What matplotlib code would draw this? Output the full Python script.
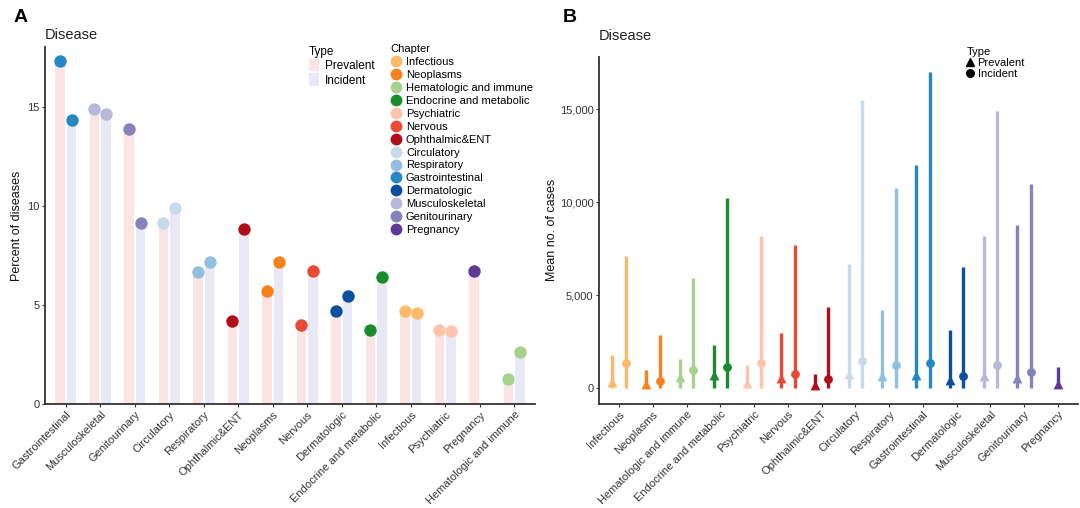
import matplotlib.pyplot as plt
import numpy as np
from matplotlib.patches import Patch
from matplotlib.lines import Line2D
from matplotlib.ticker import FuncFormatter

plt.rcParams['font.family'] = ['Liberation Sans', 'DejaVu Sans']

# chapter order (legend / panel B order) and colours
chapters = ['Infectious', 'Neoplasms', 'Hematologic and immune', 'Endocrine and metabolic',
            'Psychiatric', 'Nervous', 'Ophthalmic&ENT', 'Circulatory', 'Respiratory',
            'Gastrointestinal', 'Dermatologic', 'Musculoskeletal', 'Genitourinary', 'Pregnancy']
chapter_colors = ['#FDBA6B', '#F7821B', '#A6D28D', '#1A8C2C', '#FCC4AD', '#E84A36', '#B10E1C',
                  '#C9D9EC', '#93BFDF', '#2388C4', '#0B4F9E', '#BAB8DA', '#8682BC', '#5D3A96']
color_of = dict(zip(chapters, chapter_colors))

# panel A: percent of diseases
a_order = ['Gastrointestinal', 'Musculoskeletal', 'Genitourinary', 'Circulatory', 'Respiratory',
           'Ophthalmic&ENT', 'Neoplasms', 'Nervous', 'Dermatologic', 'Endocrine and metabolic',
           'Infectious', 'Psychiatric', 'Pregnancy', 'Hematologic and immune']
pct_prevalent = [17.3, 14.85, 13.85, 9.14, 6.68, 4.2, 5.69, 3.97, 4.71, 3.74, 4.71, 3.74, 6.7, 1.26]
pct_incident = [14.3, 14.6, 9.14, 9.9, 7.15, 8.82, 7.15, 6.7, 5.47, 6.4, 4.58, 3.67, None, 2.6]

# panel B: mean no. of cases (line top = max, marker = mean)
prev_max = [1770, 970, 1560, 2310, 1240, 2980, 740, 6700, 4190, 12000, 3120, 8170, 8760, 1150]
prev_mean = [340, 250, 610, 700, 260, 555, 200, 750, 660, 700, 430, 645, 555, 250]
inc_max = [7130, 2850, 5900, 10200, 8170, 7690, 4370, 15500, 10770, 17000, 6520, 14900, 10970, None]
inc_mean = [1370, 376, 968, 1147, 1380, 750, 520, 1450, 1237, 1330, 660, 1237, 877, None]

PREV_BAR = '#FCE4E4'
INC_BAR = '#E8E9F4'
AXC = '#333333'

fig = plt.figure(figsize=(10.8, 5.08), dpi=100)
axA = fig.add_axes([45/1080, 1-404/508, 490/1080, 357/508])
axB = fig.add_axes([599/1080, 1-403.5/508, 479/1080, 346.5/508])

def style(ax):
    for s in ['top', 'right']:
        ax.spines[s].set_visible(False)
    for s in ['left', 'bottom']:
        ax.spines[s].set_color(AXC)
        ax.spines[s].set_linewidth(1.3)
    ax.tick_params(colors=AXC, labelsize=8, length=2.5, width=0.8, pad=1.5)
    ax.set_xlim(-0.6, 13.6)

# ---- panel A
off = 0.17
bw = 0.28
for i, ch in enumerate(a_order):
    c = color_of[ch]
    axA.bar(i - off, pct_prevalent[i], width=bw, color=PREV_BAR, zorder=1)
    axA.scatter(i - off, pct_prevalent[i], s=80, color=c, zorder=3, linewidths=0)
    if pct_incident[i] is not None:
        axA.bar(i + off, pct_incident[i], width=bw, color=INC_BAR, zorder=1)
        axA.scatter(i + off, pct_incident[i], s=80, color=c, zorder=3, linewidths=0)

style(axA)
axA.set_ylim(0, 18)
axA.set_yticks([0, 5, 10, 15])
axA.set_xticks(range(len(a_order)))
axA.set_xticklabels(a_order, rotation=45, ha='right', rotation_mode='anchor')
axA.set_ylabel('Percent of diseases', fontsize=9, color='#111111', labelpad=3)

type_handles = [Patch(facecolor=PREV_BAR, label='Prevalent'), Patch(facecolor=INC_BAR, label='Incident')]
fig.legend(handles=type_handles, title='Type', loc='upper left',
           bbox_to_anchor=(304/1080, 1-41/508), frameon=False, fontsize=8.5,
           title_fontsize=8.5, handlelength=0.9, handleheight=1.25, labelspacing=0.1,
           handletextpad=0.5, alignment='left', borderaxespad=0)
chap_handles = [Line2D([], [], marker='o', ls='', color=c, markersize=7.5, label=ch)
                for ch, c in zip(chapters, chapter_colors)]
fig.legend(handles=chap_handles, title='Chapter', loc='upper left',
           bbox_to_anchor=(386/1080, 1-40/508), frameon=False, fontsize=8,
           title_fontsize=8, handlelength=1.0, labelspacing=0.26,
           handletextpad=0.4, alignment='left', borderaxespad=0)

# ---- panel B
doff = 0.2
for i, ch in enumerate(chapters):
    c = color_of[ch]
    if inc_max[i] is None:
        xs = [i]
    else:
        xs = [i - doff, i + doff]
    axB.vlines(xs[0], 0, prev_max[i], color=c, lw=2.4, zorder=2)
    axB.scatter(xs[0], prev_mean[i], marker='^', s=50, color=c, zorder=3, linewidths=0)
    if inc_max[i] is not None:
        axB.vlines(xs[1], 0, inc_max[i], color=c, lw=2.4, zorder=2)
        axB.scatter(xs[1], inc_mean[i], marker='o', s=40, color=c, zorder=3, linewidths=0)

style(axB)
axB.set_ylim(-820, 17800)
axB.set_yticks([0, 5000, 10000, 15000])
axB.yaxis.set_major_formatter(FuncFormatter(lambda v, p: f'{int(v):,}'))
axB.set_xticks(range(len(chapters)))
axB.set_xticklabels(chapters, rotation=45, ha='right', rotation_mode='anchor')
axB.set_ylabel('Mean no. of cases', fontsize=9, color='#111111', labelpad=1)

shape_handles = [Line2D([], [], marker='^', ls='', color='black', markersize=6, label='Prevalent'),
                 Line2D([], [], marker='o', ls='', color='black', markersize=5.5, label='Incident')]
fig.legend(handles=shape_handles, title='Type', loc='upper left',
           bbox_to_anchor=(962/1080, 1-43/508), frameon=False, fontsize=8,
           title_fontsize=8, handlelength=0.6, labelspacing=0.05,
           handletextpad=0.4, alignment='left', borderaxespad=0)

# panel letters and titles
fig.text(14/1080, 1-17/508, 'A', fontsize=14, fontweight='bold', va='center')
fig.text(45/1080, 1-35/508, 'Disease', fontsize=10.5, color='#222222', va='center')
fig.text(563/1080, 1-18/508, 'B', fontsize=14, fontweight='bold', va='center')
fig.text(599/1080, 1-36/508, 'Disease', fontsize=10.5, color='#222222', va='center')

fig.savefig('out.png', dpi=100)
